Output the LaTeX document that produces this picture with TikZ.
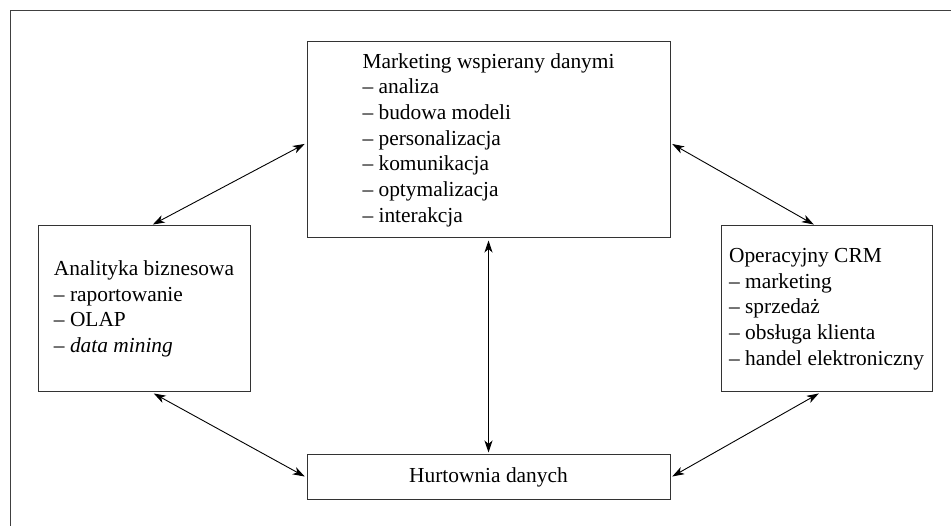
\documentclass[tikz,border=0pt]{standalone}
\usepackage{fontspec}
\setmainfont{Liberation Serif}
\usetikzlibrary{arrows.meta,positioning}

\begin{document}
\begin{tikzpicture}[x=1pt, y=-1pt, box/.style={draw=black!80, line width=1pt, align=left, font=\fontsize{21.4}{25.7}\selectfont, inner sep=0pt}, arr/.style={line width=0.9pt, {Stealth[length=12pt, width=8pt, inset=3.5pt]}-{Stealth[length=12pt, width=8pt, inset=3.5pt]}, shorten <=2pt, shorten >=2pt}]
\useasboundingbox (0,0) rectangle (951,526);
\draw[black!75, line width=0.9pt] (951,10) -| (10,526);
\node[box, minimum width=363pt, minimum height=196pt] (mkt) at (488.5,140) {Marketing wspierany danymi\\--~analiza\\--~budowa modeli\\--~personalizacja\\--~komunikacja\\--~optymalizacja\\--~interakcja};
\node[box, minimum width=212pt, minimum height=166pt] (bi) at (144,309) {Analityka biznesowa\\--~raportowanie\\--~OLAP\\--~\textit{data mining}};
\node[box, minimum width=211pt, minimum height=166pt] (crm) at (826.5,309) {Operacyjny CRM\\--~marketing\\--~sprzedaż\\--~obsługa klienta\\--~handel elektroniczny};
\node[box, minimum width=363pt, minimum height=45pt] (hd) at (488.5,477.5) {Hurtownia danych};
\draw[arr] ([xshift=7pt]bi.north) -- ([yshift=-3pt]mkt.west);
\draw[arr] ([yshift=-3pt]mkt.east) -- ([xshift=-11pt]crm.north);
\draw[arr] (mkt.south) -- (hd.north);
\draw[arr] ([xshift=8pt]bi.south) -- (hd.west);
\draw[arr] (hd.east) -- ([xshift=-6pt]crm.south);
\end{tikzpicture}
\end{document}
